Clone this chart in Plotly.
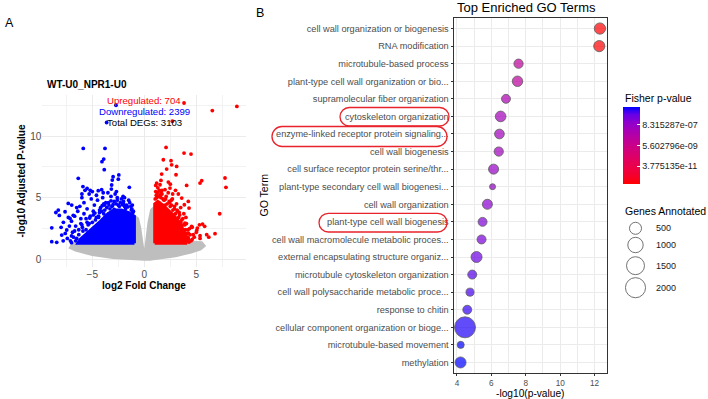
import numpy as np
import plotly.graph_objects as go

W, H = 708, 399
FONT = "Liberation Sans, Arial, sans-serif"

# ---------------- Panel A data (volcano) ----------------
comparison = "WT-U0_NPR1-U0"
up_count = 704
down_count = 2399
total_count = 3103

# dense non-significant cloud (outline)
gray_poly_x = [0, -0.25, -0.45, -0.65, -0.95, -1.2, -2.5, -4.5, -6.2, -6.9, -7.1, -6.6, -5.0, -3.0, -1.5, -0.5, 0,
               0.5, 1.5, 3.0, 4.5, 5.4, 5.75, 5.5, 4.0, 2.0, 1.05, 0.95, 0.7, 0.45, 0.25, 0]
gray_poly_y = [0, 1.5, 2.6, 3.3, 3.5, 2.5, 1.4, 1.4, 1.35, 1.2, 0.95, 0.75, 0.4, 0.15, 0.05, 0, 0,
               0, 0.1, 0.3, 0.6, 0.85, 1.1, 1.35, 1.4, 1.4, 3.5, 4.2, 4.0, 3.0, 1.6, 0]

# dense down-regulated core
down_core_x = [-0.95, -0.95, -1.5, -2.2, -2.9, -3.5, -4.2, -5.0, -5.7, -6.2, -6.4, -0.95]
down_core_y = [1.3, 3.5, 3.8, 4.0, 4.0, 3.7, 3.1, 2.5, 2.0, 1.6, 1.3, 1.3]

# dense up-regulated core
up_core_x = [1.0, 1.0, 1.3, 1.8, 2.3, 2.8, 3.3, 3.7, 4.0, 4.1, 4.0, 1.0]
up_core_y = [1.3, 4.5, 4.7, 4.4, 4.0, 3.6, 3.1, 2.5, 2.0, 1.6, 1.3, 1.3]

# individual down-regulated genes
down_x = [-5.87, -3.78, -3.9, -4.07, -3.85, -6.35, -3.0, -3.08, -3.14, -2.45, -2.5, -1.44, -5.9, -5.7, -5.5, -5.2,
          -6.0, -4.43, -4.1, -3.95, -3.17, -2.68, -2.04, -2.2, -7.31, -6.98, -7.62, -8.27, -8.5, -8.17, -8.9, -8.9,
          -8.42, -7.94, -7.46, -7.78, -7.14, -6.83, -6.5, -2.72, -3.62,
          -6.2, -5.8, -5.5, -5.1, -4.8, -4.5, -4.2, -4.0, -3.7, -3.4, -3.2, -2.9, -2.6, -2.3, -2.0, -1.7, -1.5,
          -1.2, -3.9, -4.6, -5.3, -2.8, -1.9, -3.5, -6.0, -5.0,
          -7.0, -6.7, -6.4, -6.1, -5.8, -5.5, -5.2, -4.9, -4.6, -4.3, -6.6, -6.3, -6.0, -5.6, -6.9, -7.2, -6.8,
          -7.1, -6.6, -7.4, -7.6, -7.0, -7.8, -8.0, -7.3,
          -1.1, -1.3, -2.5, -3.1, -3.8, -4.4, -5.3,
          -1.05, -1.25, -1.6, -1.8, -2.1, -2.4, -2.7, -3.0, -3.3, -3.6, -3.9, -4.1, -4.4, -4.7, -5.0, -5.4, -5.9,
          -6.3, -6.5, -1.4, -2.0, -2.6, -3.2, -3.8, -4.3, -4.9, -5.6, -6.1, -6.7, -7.0, -1.15, -1.9, -2.9, -3.45,
          -4.05, -4.75, -5.25, -5.95]
down_y = [9.0, 9.0, 8.13, 7.92, 7.27, 6.57, 6.7, 6.43, 6.03, 6.85, 6.5, 5.84, 5.9, 5.6, 5.75, 5.6,
          5.3, 5.57, 5.65, 5.4, 5.7, 5.5, 5.1, 4.9, 4.54, 4.4, 3.86, 4.0, 3.8, 3.56, 2.56, 1.43,
          1.38, 1.97, 2.38, 3.0, 3.32, 3.57, 4.2, 12.5, 11.1,
          4.3, 4.6, 4.1, 4.9, 4.4, 4.8, 4.2, 5.0, 4.6, 4.4, 5.1, 4.7, 5.0, 4.6, 4.5, 4.4, 4.8,
          4.1, 4.5, 5.2, 5.3, 5.3, 5.0, 5.4, 5.0, 5.5,
          3.1, 3.5, 3.9, 3.3, 3.7, 3.0, 3.5, 3.9, 3.4, 3.8, 2.7, 2.4, 2.8, 2.4, 2.2, 2.7, 1.8,
          1.5, 1.5, 1.7, 2.1, 1.35, 1.5, 2.6, 3.4,
          3.8, 4.3, 4.4, 4.3, 4.0, 3.5, 2.9,
          3.9, 4.0, 4.25, 4.1, 4.45, 4.3, 4.5, 4.45, 4.1, 4.2, 3.7, 3.9, 3.4, 3.2, 3.0, 2.8, 2.3,
          2.0, 1.7, 4.6, 4.7, 4.8, 4.75, 4.4, 4.0, 3.6, 3.3, 2.9, 2.3, 1.9, 4.4, 4.3, 4.05, 4.6,
          4.35, 3.75, 3.35, 2.6]

# individual up-regulated genes
up_x = [3.82, 6.54, 8.9, 2.7, 2.09, 3.82, 4.49, 1.83, 2.57, 2.63, 2.15, 1.67, 3.11, 3.05, 7.76, 7.85, 5.52, 5.36,
        4.07, 2.31, 2.47, 1.51, 1.19, 1.99, 1.6, 2.73, 3.27, 3.6, 4.23, 3.85, 4.3, 7.25, 5.6, 5.3, 5.8, 5.1,
        6.8, 6.0, 5.36, 4.71, 4.23, 5.04, 3.91, 4.55, 5.36, 4.6, 4.23, 6.2,
        1.2, 1.5, 1.1, 1.8, 2.1, 2.4, 2.6, 2.9, 3.1, 1.4, 2.0, 3.4, 3.6, 3.9, 4.2, 4.4, 4.5, 3.2, 2.7, 3.5,
        4.0, 1.3, 1.7, 2.3, 4.8, 4.6, 5.0, 4.3, 3.8, 1.6, 2.5, 3.0,
        1.05, 1.15, 1.4, 1.6, 1.9, 2.2, 2.5, 2.75, 3.0, 3.3, 3.5, 3.75, 3.95, 4.1, 4.2, 1.25, 1.7, 2.05,
        2.45, 2.9, 3.35, 3.7, 4.05, 4.35, 1.1, 1.45, 2.6, 3.15]
up_y = [12.68, 12.07, 12.4, 11.2, 9.08, 8.62, 8.54, 8.08, 8.0, 7.67, 7.32, 6.92, 7.54, 6.86, 6.6, 5.84, 6.38, 6.19,
        6.0, 6.27, 5.78, 6.05, 6.19, 5.65, 5.38, 5.3, 5.3, 4.97, 4.7, 4.43, 4.16, 3.7, 2.86, 2.8, 2.68, 2.54,
        2.08, 2.0, 1.92, 2.0, 2.13, 2.35, 2.94, 2.68, 1.7, 1.62, 1.65, 1.8,
        5.0, 5.2, 5.5, 4.9, 5.1, 4.7, 4.4, 4.1, 4.5, 4.6, 4.4, 3.6, 3.2, 2.8, 2.4, 2.0, 1.5, 3.9, 4.9, 4.2,
        3.4, 5.8, 5.6, 5.4, 1.8, 2.6, 2.2, 1.4, 3.7, 6.4, 6.1, 5.6,
        4.9, 5.2, 5.1, 5.0, 4.8, 4.5, 4.3, 4.0, 3.7, 3.4, 3.0, 2.8, 2.4, 2.1, 1.8, 5.4, 5.3, 4.9,
        4.6, 4.3, 3.8, 3.3, 2.9, 2.5, 6.0, 5.6, 4.8, 4.0]

# ---------------- Panel B data (GO enrichment) ----------------
go_terms = ["cell wall organization or biogenesis", "RNA modification", "microtubule-based process",
            "plant-type cell wall organization or bio...", "supramolecular fiber organization",
            "cytoskeleton organization", "enzyme-linked receptor protein signaling...", "cell wall biogenesis",
            "cell surface receptor protein serine/thr...", "plant-type secondary cell wall biogenesi...",
            "cell wall organization", "plant-type cell wall biogenesis",
            "cell wall macromolecule metabolic proces...", "external encapsulating structure organiz...",
            "microtubule cytoskeleton organization", "cell wall polysaccharide metabolic proce...",
            "response to chitin", "cellular component organization or bioge...", "microtubule-based movement",
            "methylation"]
neg_log10_p = [12.31, 12.27, 7.58, 7.52, 6.85, 6.54, 6.47, 6.43, 6.13, 6.07,
               5.77, 5.49, 5.43, 5.14, 4.89, 4.76, 4.60, 4.47, 4.22, 4.21]
genes_annotated = [410, 400, 215, 325, 190, 345, 250, 215, 280, 30,
                   280, 190, 195, 380, 195, 125, 190, 2230, 70, 380]
highlighted_terms = ["cytoskeleton organization", "enzyme-linked receptor protein signaling...",
                     "plant-type cell wall biogenesis"]
colorbar_tick_text = ["8.315287e-07", "5.602796e-09", "3.775135e-11"]
size_legend_values = [500, 1000, 1500, 2000]


# ---------------- helpers ----------------
def size_px(g):
    return 4 + 0.36 * np.sqrt(np.asarray(g, dtype=float))


_M = np.array([[0.4124564, 0.3575761, 0.1804375],
               [0.2126729, 0.7151522, 0.0721750],
               [0.0193339, 0.1191920, 0.9503041]])
_WHITE = np.array([0.95047, 1.0, 1.08883])


def _srgb_to_lab(rgb):
    c = np.array(rgb, dtype=float) / 255.0
    lin = np.where(c <= 0.04045, c / 12.92, ((c + 0.055) / 1.055) ** 2.4)
    xyz = _M @ lin / _WHITE
    d = 6 / 29
    f = np.where(xyz > d ** 3, np.cbrt(xyz), xyz / (3 * d * d) + 4 / 29)
    return np.array([116 * f[1] - 16, 500 * (f[0] - f[1]), 200 * (f[1] - f[2])])


def _lab_to_hex(lab):
    L, a, b = lab
    fy = (L + 16) / 116
    f = np.array([fy + a / 500, fy, fy - b / 200])
    d = 6 / 29
    xyz = np.where(f > d, f ** 3, 3 * d * d * (f - 4 / 29)) * _WHITE
    lin = np.clip(np.linalg.inv(_M) @ xyz, 0, 1)
    c = np.where(lin <= 0.0031308, 12.92 * lin, 1.055 * lin ** (1 / 2.4) - 0.055)
    c = np.clip(np.round(c * 255), 0, 255).astype(int)
    return "#%02X%02X%02X" % tuple(c)


lab_lo = _srgb_to_lab((255, 0, 0))
lab_hi = _srgb_to_lab((0, 0, 255))
colorscale = [[t, _lab_to_hex(lab_lo + (lab_hi - lab_lo) * t)] for t in np.linspace(0, 1, 11)]


def px_x(p):
    return p / W


def px_y(p):
    return 1 - p / H


def stadium(x0, x1, y0, y1):
    r = (y1 - y0) / 2
    k = 0.5523 * r
    pts = [("M", [(x0 + r, y0)]),
           ("L", [(x1 - r, y0)]),
           ("C", [(x1 - r + k, y0), (x1, y0 + r - k), (x1, y0 + r)]),
           ("C", [(x1, y0 + r + k), (x1 - r + k, y1), (x1 - r, y1)]),
           ("L", [(x0 + r, y1)]),
           ("C", [(x0 + r - k, y1), (x0, y0 + r + k), (x0, y0 + r)]),
           ("C", [(x0, y0 + r - k), (x0 + r - k, y0), (x0 + r, y0)])]
    s = ""
    for cmd, ps in pts:
        s += cmd + " " + " ".join("%.5f,%.5f" % (px_x(a), px_y(b)) for a, b in ps) + " "
    return s + "Z"


fig = go.Figure()

# ---------------- Panel A traces ----------------
GRAY, BLUE, RED = "#BEBEBE", "#0000FF", "#FF0000"
fig.add_trace(go.Scatter(x=gray_poly_x, y=gray_poly_y, mode="lines", fill="toself", fillcolor=GRAY,
                         line=dict(color=GRAY, width=3), xaxis="x", yaxis="y", hoverinfo="skip"))
fig.add_trace(go.Scatter(x=down_core_x, y=down_core_y, mode="lines", fill="toself", fillcolor=BLUE,
                         line=dict(color=BLUE, width=3), xaxis="x", yaxis="y", hoverinfo="skip"))
fig.add_trace(go.Scatter(x=up_core_x, y=up_core_y, mode="lines", fill="toself", fillcolor=RED,
                         line=dict(color=RED, width=3), xaxis="x", yaxis="y", hoverinfo="skip"))
fig.add_trace(go.Scatter(x=down_x, y=down_y, mode="markers", marker=dict(color=BLUE, size=3.8),
                         xaxis="x", yaxis="y"))
fig.add_trace(go.Scatter(x=up_x, y=up_y, mode="markers", marker=dict(color=RED, size=3.8),
                         xaxis="x", yaxis="y"))

# ---------------- Panel B traces ----------------
color_vals = -np.array(neg_log10_p)
tick_vals = [float(np.log10(float(s))) for s in colorbar_tick_text]
fig.add_trace(go.Scatter(
    x=neg_log10_p, y=go_terms, mode="markers", xaxis="x2", yaxis="y2",
    marker=dict(size=size_px(genes_annotated), sizemode="diameter", color=color_vals,
                colorscale=colorscale, cmin=color_vals.min(), cmax=color_vals.max(),
                line=dict(color="#1A1A1A", width=0.8),
                colorbar=dict(x=px_x(623.3), xanchor="left", xpad=0, y=px_y(145.5), yanchor="middle", ypad=0,
                              len=77, lenmode="pixels", thickness=17, thicknessmode="pixels",
                              outlinewidth=0, tickvals=tick_vals, ticktext=colorbar_tick_text,
                              ticks="inside", ticklen=3, tickcolor="white", tickwidth=1,
                              tickfont=dict(family=FONT, size=9, color="#1A1A1A"))),
))

# size legend (drawn as open circles on a hidden axis)
legend_key_rows = [228.3, 245.0, 265.7, 287.7]
fig.add_trace(go.Scatter(x=[0] * len(size_legend_values), y=legend_key_rows, mode="markers",
                         xaxis="x3", yaxis="y3",
                         marker=dict(size=size_px(size_legend_values), sizemode="diameter", color="white",
                                     line=dict(color="#222222", width=0.9))))

axis_tick_font = dict(family=FONT, size=10, color="#4D4D4D")
layout = dict(
    width=W, height=H, margin=dict(l=0, r=0, t=0, b=0), autosize=False,
    paper_bgcolor="white", plot_bgcolor="white", showlegend=False,
    font=dict(family=FONT),
    xaxis=dict(domain=[px_x(144.3 - 10.4 * 9.8), px_x(144.3 + 10.4 * 9.8)], range=[-9.8, 9.8],
               tickvals=[-5, 0, 5], ticks="", showline=False, zeroline=False,
               showgrid=True, gridcolor="#EBEBEB", gridwidth=1,
               minor=dict(tickvals=[-7.5, -2.5, 2.5, 7.5], showgrid=True, gridcolor="#F2F2F2", gridwidth=0.6),
               tickfont=axis_tick_font, anchor="y"),
    yaxis=dict(domain=[px_y(267), px_y(95)], range=[-0.62, 13.33],
               tickvals=[0, 5, 10], ticks="", showline=False, zeroline=False,
               showgrid=True, gridcolor="#EBEBEB", gridwidth=1,
               minor=dict(tickvals=[2.5, 7.5, 12.5], showgrid=True, gridcolor="#F2F2F2", gridwidth=0.6),
               tickfont=axis_tick_font, anchor="x"),
    xaxis2=dict(domain=[px_x(454), px_x(607)], range=[3.83, 12.72], tickvals=[4, 6, 8, 10, 12],
                showgrid=True, gridcolor="#EBEBEB", gridwidth=1, zeroline=False,
                minor=dict(tickvals=[5, 7, 9, 11], showgrid=True, gridcolor="#EBEBEB", gridwidth=0.6),
                showline=True, mirror=True, linecolor="#333333", linewidth=1,
                ticks="outside", ticklen=2, tickcolor="#333333", tickwidth=1,
                tickfont=dict(family=FONT, size=8.2, color="#4D4D4D"), anchor="y2"),
    yaxis2=dict(domain=[px_y(373), px_y(18)], type="category", categoryorder="array", categoryarray=go_terms,
                range=[len(go_terms) - 1 + 0.6, -0.6], showgrid=True, gridcolor="#EBEBEB", gridwidth=1,
                showline=True, mirror=True, linecolor="#333333", linewidth=1,
                ticks="outside", ticklen=2.5, tickcolor="#333333", tickwidth=1,
                tickfont=dict(family=FONT, size=9.2, color="#4D4D4D"), anchor="x2"),
    xaxis3=dict(domain=[px_x(625), px_x(646)], range=[-1, 1], visible=False, anchor="y3"),
    yaxis3=dict(domain=[px_y(300), px_y(216)], range=[300, 216], visible=False, anchor="x3"),
)
fig.update_layout(**layout)

ann = []


def A(text, x, y, size, color="black", bold=False, xanchor="left", yanchor="middle", angle=0,
      xref="paper", yref="paper"):
    ann.append(dict(text=text, x=x, y=y, xref=xref, yref=yref, showarrow=False, xanchor=xanchor,
                    yanchor=yanchor, textangle=angle,
                    font=dict(family=FONT, size=size, color=color, weight="bold" if bold else "normal")))


# panel labels
A("A", px_x(3), px_y(23), 12.5)
A("B", px_x(254), px_y(13), 12.5)
# panel A texts
A(comparison, px_x(44.5), px_y(84.3), 10, bold=True)
A(f"Upregulated: {up_count}", 0, 12.86, 9.6, color=RED, xanchor="center", xref="x", yref="y")
A(f"Downregulated: {down_count}", 0, 11.96, 9.6, color=BLUE, xanchor="center", xref="x", yref="y")
A(f"Total DEGs: {total_count}", 0, 11.06, 9.6, color="black", xanchor="center", xref="x", yref="y")
A("log2 Fold Change", px_x(144.3), px_y(285), 10, bold=True, xanchor="center")
A("-log10 Adjusted P-value", px_x(21.5), px_y(181), 10, bold=True, xanchor="center", angle=-90)
# panel B texts
A("Top Enriched GO Terms", px_x(454.5), px_y(7), 13)
A("-log10(p-value)", px_x(530.5), px_y(393), 10.2, xanchor="center")
A("GO Term", px_x(263), px_y(195.5), 10.5, xanchor="center", angle=-90)
A("Fisher p-value", px_x(622.5), px_y(98.3), 10.5)
A("Genes Annotated", px_x(622.5), px_y(210.7), 10.5)
for v, row in zip(size_legend_values, legend_key_rows):
    ann.append(dict(text=str(v), x=px_x(654), y=row, xref="paper", yref="y3", showarrow=False,
                    xanchor="left", yanchor="middle", font=dict(family=FONT, size=9, color="#1A1A1A")))
fig.update_layout(annotations=ann)

# red highlight outlines around selected terms
ellipse_boxes = {"cytoskeleton organization": (340, 449, 107.5, 126),
                 "enzyme-linked receptor protein signaling...": (272, 447, 126.5, 146.5),
                 "plant-type cell wall biogenesis": (319, 447, 213.3, 232)}
shapes = []
for term in highlighted_terms:
    x0, x1, y0, y1 = ellipse_boxes[term]
    shapes.append(dict(type="path", path=stadium(x0, x1, y0, y1), xref="paper", yref="paper",
                       line=dict(color="#E8232B", width=1.3), fillcolor="rgba(0,0,0,0)"))
fig.update_layout(shapes=shapes)

fig.write_html("out.html")
